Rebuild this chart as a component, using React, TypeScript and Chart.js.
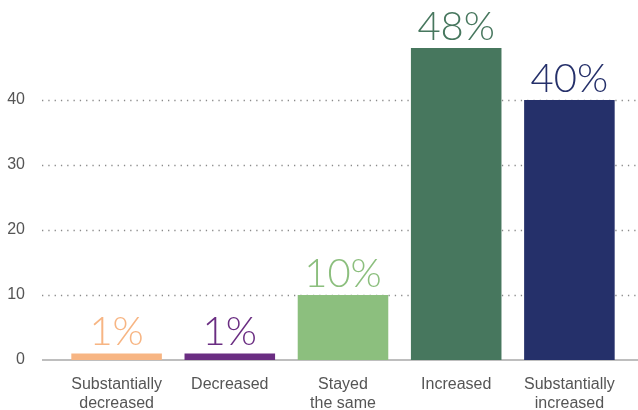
import React, { useEffect, useRef } from "react";
import { Chart, registerables } from "chart.js";

Chart.register(...registerables);

const categories: string[][] = [
  ["Substantially", "decreased"],
  ["Decreased"],
  ["Stayed", "the same"],
  ["Increased"],
  ["Substantially", "increased"],
];
const values: number[] = [1, 1, 10, 48, 40];
const valueLabels: string[] = ["1%", "1%", "10%", "48%", "40%"];
const barColors: string[] = ["#F7B583", "#6A2D82", "#8CBF7E", "#47775E", "#25306A"];
const yTicks: number[] = [0, 10, 20, 30, 40];
const yMax = 48.52;

const gridPlugin = {
  id: "extGrid",
  beforeDatasetsDraw(chart: any) {
    const ctx = chart.ctx;
    const y = chart.scales.y;
    ctx.save();
    yTicks.forEach((t) => {
      const py = Math.round(y.getPixelForValue(t));
      ctx.beginPath();
      if (t === 0) {
        ctx.setLineDash([]);
        ctx.strokeStyle = "#A8A8A8";
        ctx.lineWidth = 1.5;
        ctx.moveTo(42, py);
        ctx.lineTo(638, py);
      } else {
        ctx.setLineDash([1.3, 5]);
        ctx.strokeStyle = "#8A8A8A";
        ctx.lineWidth = 1.3;
        ctx.moveTo(42, py + 0.5);
        ctx.lineTo(638, py + 0.5);
      }
      ctx.stroke();
    });
    ctx.restore();
  },
};

const labelPlugin = {
  id: "valueLabels",
  afterDatasetsDraw(chart: any) {
    const ctx = chart.ctx;
    const meta = chart.getDatasetMeta(0);
    ctx.save();
    ctx.font = '300 40px Lato, sans-serif';
    ctx.textAlign = "center";
    ctx.textBaseline = "alphabetic";
    meta.data.forEach((bar: any, i: number) => {
      ctx.fillStyle = barColors[i];
      ctx.fillText(valueLabels[i], bar.x, bar.y - 8);
    });
    ctx.restore();
  },
};

export default function App() {
  const ref = useRef<HTMLCanvasElement>(null);
  useEffect(() => {
    if (!ref.current) return;
    const chart = new Chart(ref.current, {
      type: "bar",
      data: {
        labels: categories,
        datasets: [
          {
            data: values,
            backgroundColor: barColors,
            borderWidth: 0,
            barPercentage: 0.8,
            categoryPercentage: 1.0,
          },
        ],
      },
      options: {
        responsive: false,
        animation: false,
        layout: { padding: { top: 2.5, right: 12, bottom: 0, left: 0 } },
        plugins: { legend: { display: false }, tooltip: { enabled: false } },
        scales: {
          x: {
            grid: { display: false, drawTicks: false },
            border: { display: false },
            ticks: {
              padding: 15,
              color: "#555555",
              maxRotation: 0,
              autoSkip: false,
              font: { family: '"Liberation Sans", Arial, sans-serif', size: 16, lineHeight: "19px" },
            },
            afterFit(scale: any) {
              scale.height = 50;
            },
          },
          y: {
            min: 0,
            max: yMax,
            grid: { display: false, drawTicks: false },
            border: { display: false },
            ticks: {
              stepSize: 10,
              padding: 35,
              color: "#555555",
              font: { family: '"Liberation Sans", Arial, sans-serif', size: 16 },
            },
            afterBuildTicks(scale: any) {
              scale.ticks = yTicks.map((v) => ({ value: v }));
            },
            afterFit(scale: any) {
              scale.width = 60;
            },
          },
        },
      },
      plugins: [gridPlugin, labelPlugin],
    });
    return () => chart.destroy();
  }, []);
  return (
    <div style={{ position: "fixed", left: 0, top: 0, width: 638, height: 410, background: "#fff" }}>
      <canvas ref={ref} width={638} height={410} style={{ width: 638, height: 410 }} />
    </div>
  );
}
